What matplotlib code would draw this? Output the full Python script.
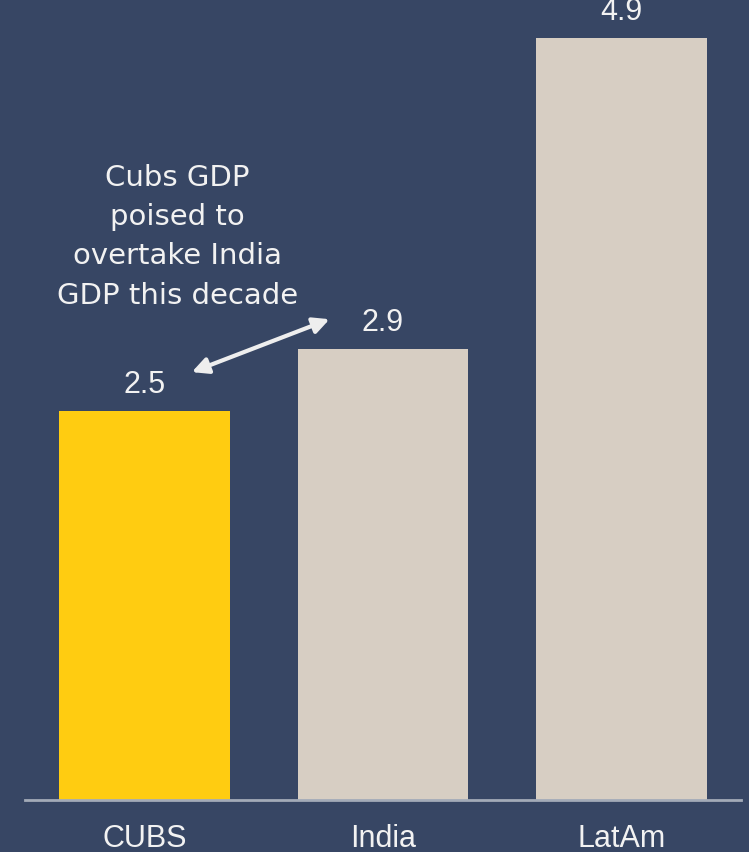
import matplotlib.pyplot as plt

regions = ['CUBS', 'India', 'LatAm']
gdp = [2.5, 2.9, 4.9]
bar_colors = ['#FFCC11', '#D7CEC3', '#D7CEC3']
note = 'Cubs GDP\npoised to\novertake India\nGDP this decade'

BG = '#374664'
FG = '#F2F2F2'

plt.rcParams['font.family'] = ['Liberation Sans', 'DejaVu Sans']

fig = plt.figure(figsize=(7.49, 8.52), dpi=100, facecolor=BG)
ax = fig.add_axes([25 / 749, 52 / 852, 716 / 749, 800 / 852])
ax.set_facecolor(BG)

x = range(len(regions))
ax.bar(x, gdp, width=0.715, color=bar_colors, zorder=2)
ax.set_xlim(-0.5, 2.5)
ax.set_ylim(0, 800 / 155.6)

# value labels above each bar
for xi, v in zip(x, gdp):
    ax.annotate(f'{v:.1f}', xy=(xi, v), xytext=(0, 13), textcoords='offset points',
                ha='center', va='baseline', fontsize=22, color=FG)

ax.set_xticks(list(x))
ax.set_xticklabels(regions, fontsize=22, color=FG)
ax.tick_params(axis='x', length=0, pad=17)
ax.set_yticks([])
for side in ['top', 'right', 'left']:
    ax.spines[side].set_visible(False)
ax.spines['bottom'].set_color('#A3ABB8')
ax.spines['bottom'].set_linewidth(2)

# callout comparing CUBS and India
ax.text(0.138, 4.09, note, ha='center', va='top', fontsize=21, color=FG,
        family='DejaVu Sans', linespacing=1.52)
ax.annotate('', xy=(0.199, 2.75), xytext=(0.776, 3.09),
            arrowprops=dict(arrowstyle='<|-|>', color='#EEEEEE', lw=3,
                            mutation_scale=24, shrinkA=0, shrinkB=0))

fig.savefig('out.png', dpi=100, facecolor=BG)
